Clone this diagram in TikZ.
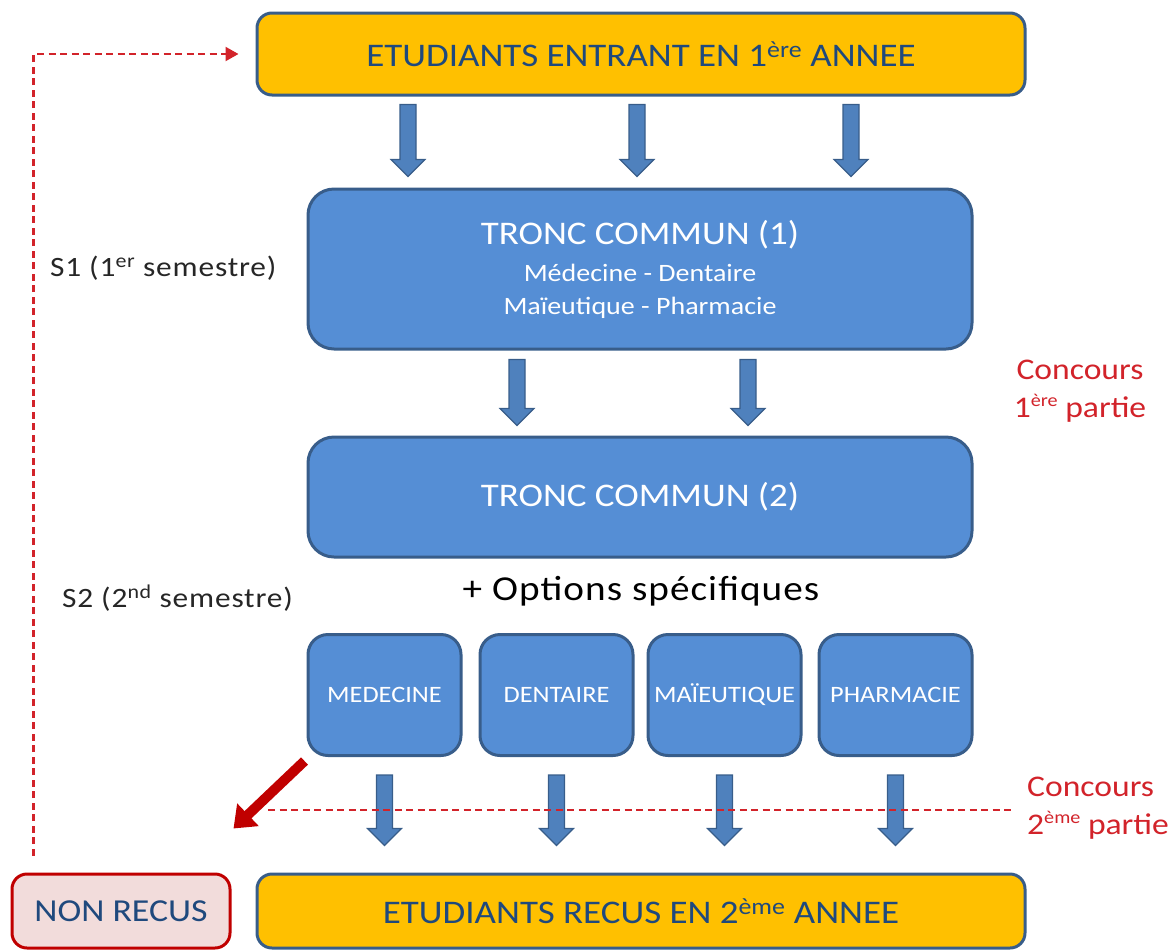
\documentclass[tikz,border=0pt]{standalone}
\usepackage{fontspec}
\setmainfont{Carlito}
\newfontfamily\fw{Carlito}[FakeStretch=1.12]
\newfontfamily\fo{Carlito}[FakeStretch=1.12,LetterSpace=3]
\usetikzlibrary{arrows.meta,calc}
\definecolor{yel}{HTML}{FFC000}
\definecolor{bord}{HTML}{385D8A}
\definecolor{boxblue}{HTML}{558ED5}
\definecolor{arrblue}{HTML}{4F81BD}
\definecolor{txtblue}{HTML}{1F497D}
\definecolor{darkred}{HTML}{C00000}
\definecolor{cred}{HTML}{D2232A}
\definecolor{pinkfill}{HTML}{F2DCDB}
\definecolor{txtgray}{HTML}{262626}
\newcommand\concsup[1]{\raisebox{10.5pt}{\fontsize{18}{18}\selectfont #1}}
\tikzset{
  boxbase/.style={draw=bord, line width=3pt, inner sep=0pt, align=center},
  yelbox/.style={boxbase, fill=yel, rounded corners=15pt, text=txtblue,
    minimum width=768pt, minimum height=82pt, font=\fw\fontsize{33}{36}\selectfont},
  bigblue/.style={boxbase, fill=boxblue, rounded corners=26pt, text=white,
    minimum width=664pt},
  smallblue/.style={boxbase, fill=boxblue, rounded corners=20pt, text=white,
    minimum width=153pt, minimum height=121pt, font=\fw\fontsize{23.5}{26}\selectfont},
  nonbox/.style={boxbase, draw=darkred, fill=pinkfill, rounded corners=15pt,
    text=txtblue, minimum width=218pt, minimum height=74pt,
    font=\fw\fontsize{32}{36}\selectfont},
  barrow/.style={draw=bord, fill=arrblue, line width=1.2pt, line join=miter,
    to path={let \p1=(\tikztostart), \p2=(\tikztotarget) in
      (\x1-8pt,\y1) -- (\x1-8pt,\y2+17pt) -- (\x1-17pt,\y2+17pt) -- (\x1,\y2)
      -- (\x1+17pt,\y2+17pt) -- (\x1+8pt,\y2+17pt) -- (\x1+8pt,\y1) -- cycle}},
  rdash/.style={draw=cred, line width=2.2pt, dash pattern=on 7pt off 4.5pt},
  sidelabel/.style={text=txtgray, font=\fo\fontsize{28}{30}\selectfont, inner sep=0pt},
  conc/.style={text=cred, font=\fw\fontsize{30}{38}\selectfont, inner sep=0pt}
}
\begin{document}
\begin{tikzpicture}[x=1pt,y=-1pt]
\useasboundingbox (0,0) rectangle (1175,951);

% boxes
\node[yelbox] (top) at (641,54) {ETUDIANTS ENTRANT EN 1\textsuperscript{ère} ANNEE};
\node[bigblue, minimum height=160pt, font=\fw\fontsize{25}{27}\selectfont] (tc1) at (640,269) {%
  {\fontsize{33}{36}\selectfont TRONC COMMUN (1)}\\[10pt]
  Médecine - Dentaire\\[6pt]
  Maïeutique - Pharmacie};
\node[bigblue, minimum height=120pt, font=\fw\fontsize{33}{36}\selectfont] (tc2) at (640,497) {TRONC COMMUN (2)};

\node[smallblue] (med) at (384.5,695) {MEDECINE};
\node[smallblue] (den) at (556.5,695) {DENTAIRE};
\node[smallblue] (mai) at (724.5,695) {MAÏEUTIQUE};
\node[smallblue] (pha) at (895.5,695) {PHARMACIE};

\node[nonbox] (non) at (121,911) {NON RECUS};
\node[yelbox, minimum height=74pt] (recus) at (641,911) {ETUDIANTS RECUS EN 2\textsuperscript{ème} ANNEE};

% labels
\node[font=\fo\fontsize{35}{38}\selectfont, text=black] (opt) at (641,591) {+ Options spécifiques};
\node[sidelabel, anchor=west] (s1) at (50,268) {S1 (1\textsuperscript{er} semestre)};
\node[sidelabel, anchor=west] (s2) at (62,598) {S2 (2\textsuperscript{nd} semestre)};
\node[conc, align=center] (c1) at (1080,391) {Concours\\1\concsup{ère} partie};
\node[conc, align=left, anchor=west] (c2) at (1027,808) {Concours\\2\concsup{ème} partie};

% block arrows
\draw[barrow] ($(top.south)+(-233,8)$) to ($(tc1.north)+(-233,-11)$);
\draw[barrow] ($(top.south)+(-4,8)$) to ($(tc1.north)+(-4,-11)$);
\draw[barrow] ($(top.south)+(210,8)$) to ($(tc1.north)+(210,-11)$);
\draw[barrow] ($(tc1.south)+(-123,9)$) to ($(tc2.north)+(-123,-10)$);
\draw[barrow] ($(tc1.south)+(108,9)$) to ($(tc2.north)+(108,-10)$);
\foreach \b in {med,den,mai,pha}{
  \draw[barrow] ($(\b.south)+(0,18)$) to ($(\b.south |- recus.north)+(0,-27)$);
}

% red arrow to NON RECUS
\draw[darkred, line width=10pt, -{Triangle[width=30pt,length=20pt]}]
  ($(med.south west)+(-2,4)$) -- ($(non.north east)+(2,-44)$);

% dashed lines
\coordinate (d1) at (268,810);
\coordinate (d2) at (1013,810);
\draw[rdash] (d1) -- (d2);
\draw[rdash, -{Triangle[width=14pt,length=13pt]}]
  ($(non.north west)+(23,-17)$) |- ($(top.west)+(-17,0)$);
\end{tikzpicture}
\end{document}
